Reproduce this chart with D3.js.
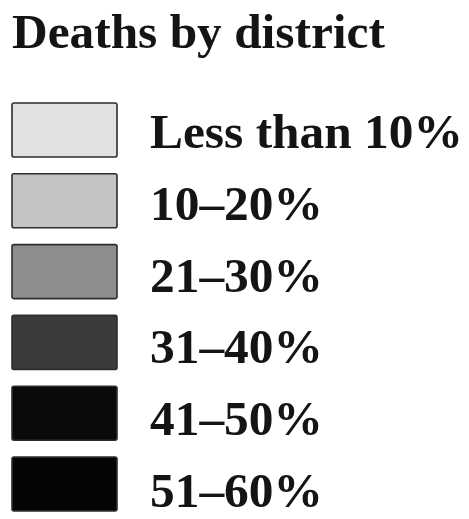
<!DOCTYPE html>
<html lang="en">
<head>
  <meta charset="UTF-8">
  <title>Deaths by district</title>
  <script src="https://d3js.org/d3.v7.min.js"></script>
  <style>
    html, body { margin: 0; padding: 0; background: #fff; }
    svg { display: block; }
    text { font-family: "Liberation Serif", "DejaVu Serif", serif; font-weight: bold; fill: #141414; }
  </style>
</head>
<body>
  <svg id="legend" width="469" height="519"></svg>
  <script>
    // legend data
    const title = "Deaths by district";
    const categories = ["Less than 10%", "10–20%", "21–30%", "31–40%", "41–50%", "51–60%"];
    const shades = ["#e1e1e1", "#c3c3c3", "#8d8d8d", "#3b3b3b", "#0a0a0a", "#050505"];

    const svg = d3.select("#legend");

    // rows: one band per category for the swatches, one point per category for the text baselines
    const boxY = d3.scaleBand().domain(categories).range([103, 511]).paddingInner(0.237).paddingOuter(0);
    const textY = d3.scalePoint().domain(categories).range([148, 507]);
    const color = d3.scaleOrdinal().domain(categories).range(shades);

    // fit a text element to a target width
    function fit(sel, target) {
      sel.each(function () {
        const w = this.getComputedTextLength();
        const fs = parseFloat(d3.select(this).attr("font-size"));
        d3.select(this).attr("font-size", fs * target / w);
      });
    }

    svg.append("text")
      .attr("x", 12)
      .attr("y", 48)
      .attr("font-size", 48)
      .text(title)
      .call(fit, 373);

    const rows = svg.append("g")
      .selectAll("g")
      .data(categories)
      .enter().append("g");

    rows.append("rect")
      .attr("x", 12)
      .attr("y", d => boxY(d))
      .attr("width", 105)
      .attr("height", boxY.bandwidth())
      .attr("rx", 2)
      .attr("fill", d => color(d))
      .attr("stroke", "#2e2e2e")
      .attr("stroke-width", 1.6);

    const labels = rows.append("text")
      .attr("x", 150)
      .attr("y", d => textY(d))
      .attr("font-size", 40)
      .text(d => d);

    // size all labels from the first one
    const first = labels.filter((d, i) => i === 0).node();
    const fs = 40 * 313 / first.getComputedTextLength();
    labels.attr("font-size", fs);
  </script>
</body>
</html>
